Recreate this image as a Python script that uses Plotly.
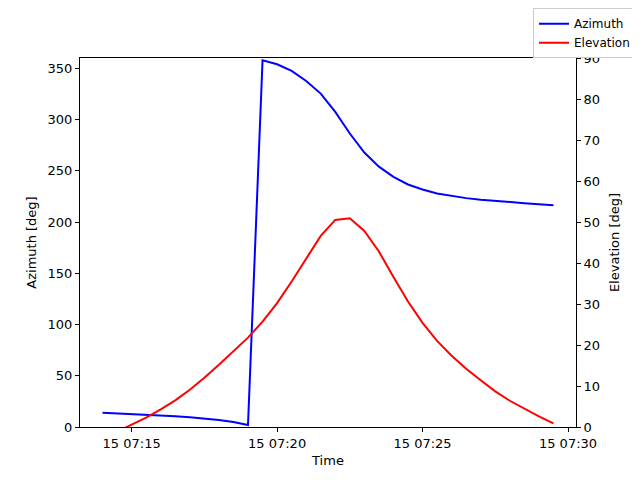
import plotly.graph_objects as go
import pandas as pd

times = pd.date_range("2024-01-15 07:14:00", periods=32, freq="30s")

azimuth = [14.0, 13.4, 12.8, 12.0, 11.3, 10.4, 9.4, 8.2, 6.8, 4.9, 2.0,
           357.8, 353.9, 347.4, 337.6, 325.3, 307.4, 286.3, 267.8, 254.0,
           244.0, 236.6, 231.7, 227.8, 225.2, 223.3, 221.8, 220.5, 219.6,
           218.4, 217.4, 216.4]

elevation = [-2.7, -1.2, 0.6, 2.3, 4.3, 6.5, 9.1, 12.0, 15.2, 18.5, 21.8,
             25.7, 30.2, 35.5, 41.0, 46.6, 50.5, 50.9, 47.8, 42.8, 36.6,
             30.6, 25.4, 21.0, 17.4, 14.2, 11.4, 8.7, 6.4, 4.4, 2.6, 0.9]

font = dict(family="DejaVu Sans", size=13, color="black")

fig = go.Figure()
fig.add_trace(go.Scatter(x=times, y=azimuth, mode="lines", name="Azimuth",
                         line=dict(color="#0000ff", width=2), yaxis="y"))
fig.add_trace(go.Scatter(x=times, y=elevation, mode="lines", name="Elevation",
                         line=dict(color="#ff0000", width=2), yaxis="y2"))

axis_common = dict(showgrid=False, zeroline=False, showline=True, linecolor="black",
                   linewidth=1, ticks="outside", ticklen=4, tickcolor="black",
                   tickfont=font, automargin=False)

# page body has an 8px margin, so the figure is sized 8px smaller
fig.update_layout(
    width=632, height=472,
    margin=dict(l=72, r=64, t=50, b=53, autoexpand=False),
    paper_bgcolor="white", plot_bgcolor="white",
    font=font,
    showlegend=True,
    legend=dict(x=1.121, y=1.135, xanchor="right", yanchor="top",
                bordercolor="#cccccc", borderwidth=1, bgcolor="white",
                font=dict(family="DejaVu Sans", size=12, color="black"),
                tracegroupgap=0, itemwidth=30),
    xaxis=dict(**axis_common, mirror=True,
               range=["2024-01-15 07:13:13.5", "2024-01-15 07:30:16.5"],
               tick0="2024-01-15 07:15:00", dtick=300000, tickformat="%d %H:%M",
               title=dict(text="Time", font=font, standoff=6)),
    yaxis=dict(**axis_common, range=[0, 360], dtick=50, tick0=0,
               title=dict(text="Azimuth [deg]", font=font, standoff=8)),
    yaxis2=dict(**axis_common, range=[0, 90], dtick=10, tick0=0,
                overlaying="y", side="right",
                title=dict(text="Elevation [deg]", font=font, standoff=10)),
)

fig.write_html("out.html")
